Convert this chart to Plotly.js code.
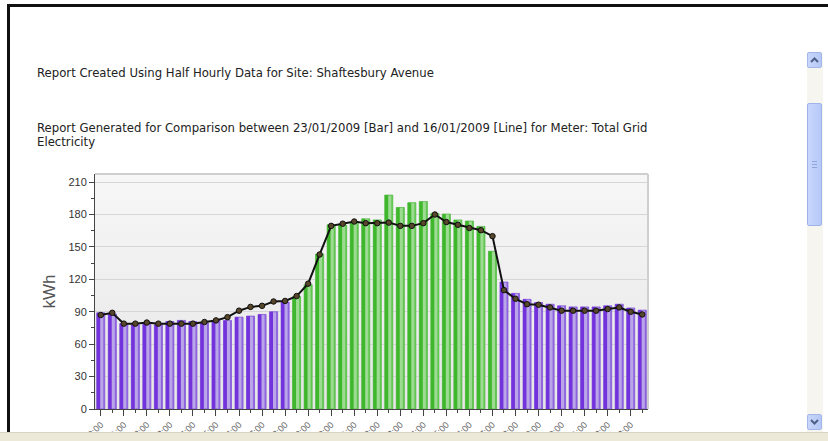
<!DOCTYPE html>
<html>
<head>
<meta charset="utf-8">
<script src="https://cdn.plot.ly/plotly-3.0.1.min.js"></script>
<style>
  html, body { margin:0; padding:0; background:#ffffff; width:828px; height:441px; overflow:hidden; }
  #frame-top { position:absolute; left:7px; top:4px; width:821px; height:3px; background:#111; }
  #frame-left { position:absolute; left:7px; top:4px; width:3px; height:437px; background:#111; }
  .rtext { position:absolute; left:37px; font-family:"DejaVu Sans", Verdana, sans-serif; font-size:11.7px; color:#222; line-height:14px; white-space:nowrap; }
  #plotbg { position:absolute; left:95px; top:174px; width:553px; height:235px; background:linear-gradient(#f7f7f7, #e6e6e6); }
  #chart { position:absolute; left:0; top:0; width:828px; height:441px; }
  #scroll { position:absolute; left:807px; top:52px; width:16px; height:380px; background:#f6f5ef; }
  .btn { position:absolute; left:807px; width:15px; height:16px; background:linear-gradient(90deg,#c8d6fb,#b5c8f6); border:1px solid #a3b6e8; border-radius:2px; box-sizing:border-box; }
  #thumb { position:absolute; left:807px; top:103px; width:15px; height:123px; background:linear-gradient(90deg,#c7d6fc,#b6c9f8); border:1px solid #9fb3ea; border-radius:2px; box-sizing:border-box; }
  #bottombar { position:absolute; left:0; top:432px; width:828px; height:9px; background:#ece9d8; border-top:1px solid #d8d4c4; }
</style>
</head>
<body>
<div id="frame-top"></div>
<div id="frame-left"></div>
<div class="rtext" style="top:66px;">Report Created Using Half Hourly Data for Site: Shaftesbury Avenue</div>
<div class="rtext" style="top:121px;">Report Generated for Comparison between 23/01/2009 [Bar] and 16/01/2009 [Line] for Meter: Total Grid<br>Electricity</div>
<div id="plotbg"></div>
<div id="chart"></div>
<div id="scroll"></div>
<div class="btn" style="top:52px;"><svg width="13" height="14"><polyline points="3,9 6.5,5.5 10,9" fill="none" stroke="#4d6185" stroke-width="2"/></svg></div>
<div id="thumb"><svg width="13" height="121"><g stroke="#8ea4dc" stroke-width="1"><line x1="4" y1="57.5" x2="9" y2="57.5"/><line x1="4" y1="60.5" x2="9" y2="60.5"/><line x1="4" y1="63.5" x2="9" y2="63.5"/></g></svg></div>
<div class="btn" style="top:414px;"><svg width="13" height="14"><polyline points="3,5 6.5,8.5 10,5" fill="none" stroke="#4d6185" stroke-width="2"/></svg></div>
<div id="bottombar"></div>
<script>
// Half-hourly slots (index 0..47)
const slots = Array.from({length:48}, (_, i) => i);
// Hourly tick labels
const hourLabels = ["00:00","01:00","02:00","03:00","04:00","05:00","06:00","07:00","08:00","09:00","10:00","11:00",
                    "12:00","13:00","14:00","15:00","16:00","17:00","18:00","19:00","20:00","21:00","22:00","23:00"];
const hourTickVals = hourLabels.map((_, i) => i * 2);
// Bar series: 23/01/2009 (kWh)
const barValues = [89, 88, 79, 78, 79, 78, 81, 82, 81, 80, 82, 82, 85, 86, 87.5, 90, 99, 104, 115, 143.5,
                   170.5, 170, 172.5, 176, 175, 198, 186.5, 191, 192, 181, 180.5, 175, 174, 169, 146, 117.5,
                   107, 101.5, 98.5, 97, 95.5, 94.5, 94.5, 94.5, 95.5, 97, 93.5, 91.5];
// Line series: 16/01/2009 (kWh)
const lineValues = [87, 89, 79, 79, 80, 79, 79, 79, 79, 80.5, 82, 85, 91, 94.5, 95.5, 99.5, 100, 104.5, 116, 143,
                    169.5, 171.5, 173.5, 172, 172, 172.5, 169.5, 169.5, 172, 180, 173, 170.5, 167.5, 165.5, 160,
                    110, 102, 97, 96.5, 94, 91, 91, 91, 91, 92.5, 94, 90, 87.5];
// Band of each half hour (colour group)
const band = [];
for (let i = 0; i < 48; i++) band.push((i >= 17 && i <= 34) ? "day" : "night");

const pal = {
  night: {light:"#b9a5e8", dark:"#7232dc", mid:"#8d62e0", edge:"#6a2fd0"},
  day:   {light:"#9ddb92", dark:"#3fb72c", mid:"#5ec64e", edge:"#3aa82a"}
};
const W = 0.7;
const base = {
  type:"bar", x:slots, y:barValues, width:W, offset:-W/2, hoverinfo:"skip", showlegend:false,
  marker:{color:band.map(b => pal[b].light), line:{color:band.map(b => pal[b].edge), width:0.6}}
};
const leftStripe = {
  type:"bar", x:slots, y:barValues, width:0.3, offset:-W/2, hoverinfo:"skip", showlegend:false,
  marker:{color:band.map(b => pal[b].dark), line:{width:0}}
};
const rightStripe = {
  type:"bar", x:slots, y:barValues, width:0.13, offset:W/2 - 0.13, hoverinfo:"skip", showlegend:false,
  marker:{color:band.map(b => pal[b].mid), line:{width:0}}
};
const line = {
  type:"scatter", mode:"lines+markers", x:slots, y:lineValues, showlegend:false,
  line:{color:"#111111", width:2},
  marker:{size:5.5, color:"#574629", line:{color:"#111", width:1}}
};

const layout = {
  width:828, height:441,
  margin:{l:95, r:180, t:174, b:32, pad:0},
  paper_bgcolor:"rgba(0,0,0,0)", plot_bgcolor:"rgba(0,0,0,0)",
  barmode:"overlay",
  font:{family:"Liberation Sans, Arial, sans-serif", size:11, color:"#333"},
  xaxis:{
    range:[-0.5, 47.5], tickmode:"array", tickvals:hourTickVals, ticktext:hourLabels,
    tickangle:-45, ticks:"outside", ticklen:6, tickcolor:"#444", tickwidth:1,
    showgrid:false, zeroline:false, showline:true, linecolor:"#444", linewidth:1,
    tickfont:{size:9, color:"#666"},
    minor:{tickmode:"array", tickvals:slots, ticks:"outside", ticklen:3, tickcolor:"#444"}
  },
  yaxis:{
    range:[0, 217.5], tickmode:"linear", tick0:0, dtick:30,
    ticks:"outside", ticklen:5, tickcolor:"#444", showline:true, linecolor:"#444", linewidth:1,
    gridcolor:"#d6d6d6", gridwidth:1, zeroline:false,
    tickfont:{size:11, color:"#333"},
    minor:{dtick:15, ticks:"outside", ticklen:3, tickcolor:"#444", showgrid:false}
  },
  shapes:[
    {type:"line", xref:"paper", yref:"paper", x0:0, x1:1, y0:1, y1:1, line:{color:"#cfcfcf", width:2}},
    {type:"line", xref:"paper", yref:"paper", x0:1, x1:1, y0:0, y1:1, line:{color:"#cfcfcf", width:2}}
  ],
  annotations:[
    {text:"kWh", xref:"paper", yref:"paper", x:-0.0814, y:0.5, xanchor:"center", yanchor:"middle",
     textangle:-90, showarrow:false, font:{size:17, color:"#555", family:"Liberation Sans, Arial, sans-serif"}}
  ]
};

Plotly.newPlot("chart", [base, leftStripe, rightStripe, line], layout, {staticPlot:true, displayModeBar:false});
</script>
</body>
</html>
